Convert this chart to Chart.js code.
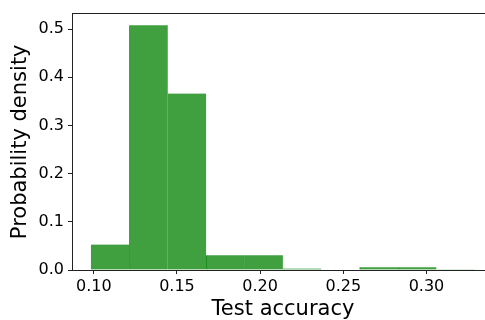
<!DOCTYPE html>
<html>
<head>
<meta charset="utf-8">
<script src="https://cdn.jsdelivr.net/npm/chart.js@4/dist/chart.umd.min.js"></script>
<style>
  html, body { margin: 0; padding: 0; background: #fff; overflow: hidden; }
  #wrap { width: 500px; height: 320px; }
</style>
</head>
<body>
<div id="wrap"><canvas id="chart-hist" width="500" height="320"></canvas></div>
<script>
// histogram bin edges (test accuracy) and density per bin
var binEdges = [0.0984, 0.1214, 0.1445, 0.1676, 0.1906, 0.2137, 0.2368, 0.2598, 0.2829, 0.3060, 0.3291];
var density = [0.053, 0.508, 0.366, 0.0305, 0.0305, 0.003, 0.0, 0.0058, 0.0058, 0.0015];
var xTicks = [0.10, 0.15, 0.20, 0.25, 0.30];
var yTicks = [0.0, 0.1, 0.2, 0.3, 0.4, 0.5];

var FONT = "'DejaVu Sans', sans-serif";
var FILL = "#40a040";

var points = [];
for (var i = 0; i < density.length; i++) {
    points.push({ x: (binEdges[i] + binEdges[i + 1]) / 2, y: density[i] });
}

// darker edge only where neighbouring patches overlap visibly
var edgeColors = density.map(function (v, i) {
    return (i == 0 || i == 2) ? FILL : "#158c15";
});

new Chart("chart-hist", {
    type: "bar",
    data: {
        datasets: [{
            label: "density",
            data: points,
            backgroundColor: FILL,
            borderColor: edgeColors,
            borderWidth: { left: 1, top: 0, right: 0, bottom: 0 },
            borderSkipped: false,
            barPercentage: 1.0,
            categoryPercentage: 1.0
        }]
    },
    options: {
        responsive: false,
        animation: false,
        events: [],
        layout: { padding: { left: 0, right: 6, top: 12, bottom: 0 } },
        plugins: {
            legend: { display: false },
            tooltip: { enabled: false }
        },
        scales: {
            x: {
                type: "linear",
                position: "bottom",
                offset: false,
                min: 0.0869,
                max: 0.3406,
                afterBuildTicks: function (scale) {
                    scale.ticks = xTicks.map(function (v) { return { value: v }; });
                },
                afterFit: function (scale) { scale.height = 50; },
                ticks: {
                    font: { family: FONT, size: 16 },
                    color: "#000",
                    padding: 3,
                    maxRotation: 0,
                    callback: function (v) { return v.toFixed(2); }
                },
                grid: { offset: false, drawOnChartArea: false, tickLength: 4, tickColor: "#222", tickWidth: 1 },
                border: { color: "#222", width: 1 },
                title: {
                    display: true,
                    text: "Test accuracy",
                    font: { family: FONT, size: 21 },
                    color: "#000",
                    padding: { top: 0, bottom: -2 }
                }
            },
            xTop: {
                type: "linear",
                position: "top",
                offset: false,
                min: 0.0869,
                max: 0.3406,
                ticks: { display: false },
                grid: { display: false, drawTicks: false },
                border: { color: "#222", width: 1 }
            },
            y: {
                min: 0,
                max: 0.532,
                afterBuildTicks: function (scale) {
                    scale.ticks = yTicks.map(function (v) { return { value: v }; });
                },
                afterFit: function (scale) { scale.width = 72; },
                ticks: {
                    font: { family: FONT, size: 16 },
                    color: "#000",
                    padding: 4,
                    callback: function (v) { return v.toFixed(1); }
                },
                grid: { drawOnChartArea: false, tickLength: 4, tickColor: "#222", tickWidth: 1 },
                border: { color: "#222", width: 1 },
                title: {
                    display: true,
                    text: "Probability density",
                    font: { family: FONT, size: 21 },
                    color: "#000",
                    padding: { top: 8, bottom: 0 }
                }
            }
        }
    }
});
</script>
</body>
</html>
